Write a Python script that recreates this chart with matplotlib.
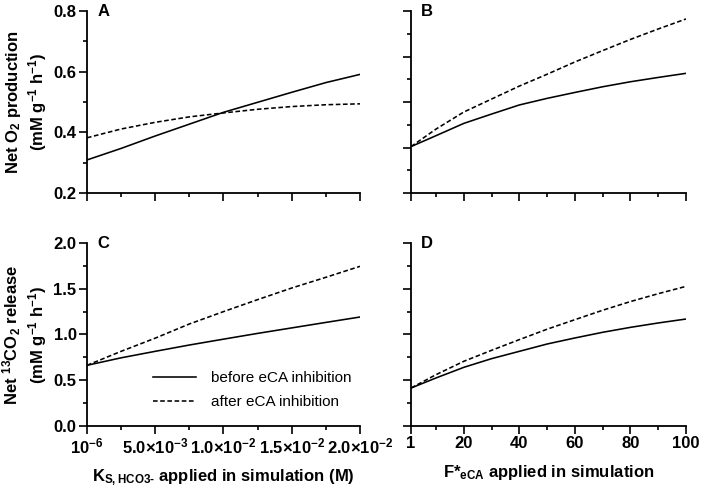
import matplotlib
matplotlib.use("Agg")
import matplotlib.pyplot as plt

plt.rcParams["font.family"] = ["Liberation Sans", "DejaVu Sans"]
plt.rcParams["mathtext.fontset"] = "custom"
plt.rcParams["mathtext.rm"] = "Liberation Sans:bold"
plt.rcParams["mathtext.it"] = "Liberation Sans:bold"
plt.rcParams["mathtext.bf"] = "Liberation Sans:bold"
plt.rcParams["mathtext.default"] = "rm"

# K_S,HCO3- sweep (panels A, C)
KS = [1e-6, 0.0025, 0.005, 0.0075, 0.01, 0.0125, 0.015, 0.0175, 0.02]
A_BEFORE = [0.309, 0.347, 0.388, 0.427, 0.466, 0.499, 0.532, 0.564, 0.591]
A_AFTER = [0.382, 0.411, 0.433, 0.451, 0.464, 0.476, 0.485, 0.491, 0.494]
C_BEFORE = [0.663, 0.745, 0.816, 0.885, 0.949, 1.012, 1.072, 1.132, 1.191]
C_AFTER = [0.663, 0.816, 0.960, 1.115, 1.250, 1.381, 1.508, 1.625, 1.745]

# F*eCA sweep (panels B, D)
F = [1, 10, 20, 30, 40, 50, 60, 70, 80, 90, 100]
B_BEFORE = [0.404, 0.452, 0.506, 0.547, 0.587, 0.616, 0.642, 0.667, 0.689, 0.708, 0.726]
B_AFTER = [0.404, 0.481, 0.556, 0.613, 0.670, 0.722, 0.776, 0.826, 0.875, 0.921, 0.965]
D_BEFORE = [0.415, 0.525, 0.641, 0.736, 0.816, 0.896, 0.962, 1.024, 1.078, 1.126, 1.169]
D_AFTER = [0.415, 0.561, 0.707, 0.827, 0.944, 1.058, 1.162, 1.265, 1.360, 1.446, 1.526]

KS_TICKS = [1e-6, 0.005, 0.01, 0.015, 0.02]
KS_MINOR = [0.0025, 0.0075, 0.0125, 0.0175]
KS_LABELS = ["10$^{-6}$", "5.0×10$^{-3}$", "1.0×10$^{-2}$", "1.5×10$^{-2}$", "2.0×10$^{-2}$"]
F_TICKS = [1, 20, 40, 60, 80, 100]
F_MINOR = [10, 30, 50, 70, 90]

INK = "black"
LW = 1.15
DASH = (2.9, 1.6)


def style(ax):
    for s in ("top", "right"):
        ax.spines[s].set_visible(False)
    for s in ("left", "bottom"):
        ax.spines[s].set_linewidth(1.3)
    ax.tick_params(which="major", direction="out", length=5.5, width=1.2,
                   labelsize=12, pad=2)
    ax.tick_params(which="minor", direction="out", length=3, width=1.2)
    for lab in ax.get_xticklabels() + ax.get_yticklabels():
        lab.set_fontweight("bold")


fig = plt.figure(figsize=(7.02, 4.91), dpi=100)
axA = fig.add_axes([0.1239, 0.6069, 0.3889, 0.3707])
axB = fig.add_axes([0.5855, 0.6069, 0.3917, 0.3707])
axC = fig.add_axes([0.1239, 0.1324, 0.3889, 0.3727])
axD = fig.add_axes([0.5855, 0.1324, 0.3917, 0.3727])

axA.plot(KS, A_BEFORE, color=INK, lw=LW)
axA.plot(KS, A_AFTER, color=INK, lw=LW, dashes=DASH)
axB.plot(F, B_BEFORE, color=INK, lw=LW)
axB.plot(F, B_AFTER, color=INK, lw=LW, dashes=DASH)
axC.plot(KS, C_BEFORE, color=INK, lw=LW, label="before eCA inhibition")
axC.plot(KS, C_AFTER, color=INK, lw=LW, dashes=DASH, label="after eCA inhibition")
axD.plot(F, D_BEFORE, color=INK, lw=LW)
axD.plot(F, D_AFTER, color=INK, lw=LW, dashes=DASH)

for ax in (axA, axC):
    ax.set_xlim(1e-6, 0.02)
    ax.set_xticks(KS_TICKS)
    ax.set_xticks(KS_MINOR, minor=True)
for ax in (axB, axD):
    ax.set_xlim(1, 100)
    ax.set_xticks(F_TICKS)
    ax.set_xticks(F_MINOR, minor=True)

axA.set_ylim(0.2, 0.8)
axA.set_yticks([0.2, 0.4, 0.6, 0.8])
axA.set_yticks([0.3, 0.5, 0.7], minor=True)
axA.set_yticklabels(["0.2", "0.4", "0.6", "0.8"])
axB.set_ylim(0.2, 1.0)
axB.set_yticks([0.2, 0.4, 0.6, 0.8, 1.0])
axB.set_yticks([0.3, 0.5, 0.7, 0.9], minor=True)
for ax in (axC, axD):
    ax.set_ylim(0, 2.0)
    ax.set_yticks([0, 0.5, 1.0, 1.5, 2.0])
    ax.set_yticks([0.25, 0.75, 1.25, 1.75], minor=True)
axC.set_yticklabels(["0.0", "0.5", "1.0", "1.5", "2.0"])
axC.set_xticklabels(KS_LABELS)

axA.tick_params(labelbottom=False)
axB.tick_params(labelbottom=False, labelleft=False)
axD.tick_params(labelleft=False)

for ax in (axA, axB, axC, axD):
    style(ax)

for ax, letter in zip((axA, axB, axC, axD), "ABCD"):
    ax.text(0.037, 1.04, letter, transform=ax.transAxes, ha="left", va="top",
            fontsize=12, fontweight="bold")

axA.set_ylabel("Net O$_2$ production\n(mM g$^{-1}$ h$^{-1}$)", fontsize=12,
               fontweight="bold", labelpad=3, linespacing=1.2)
axC.set_ylabel("Net $^{13}$CO$_2$ release\n(mM g$^{-1}$ h$^{-1}$)", fontsize=12,
               fontweight="bold", labelpad=3, linespacing=1.2)
axC.set_xlabel("K$_{S,HCO3\u2010}$ applied in simulation (M)", fontsize=12,
               fontweight="bold", labelpad=8)
axD.set_xlabel("F*$_{eCA}$ applied in simulation", fontsize=12,
               fontweight="bold", labelpad=8)

axC.legend(loc="lower left", bbox_to_anchor=(0.215, 0.05), frameon=False,
           fontsize=11, handlelength=2.8, handletextpad=0.95, labelspacing=0.65,
           borderpad=0)

fig.savefig("out.png", dpi=100)
